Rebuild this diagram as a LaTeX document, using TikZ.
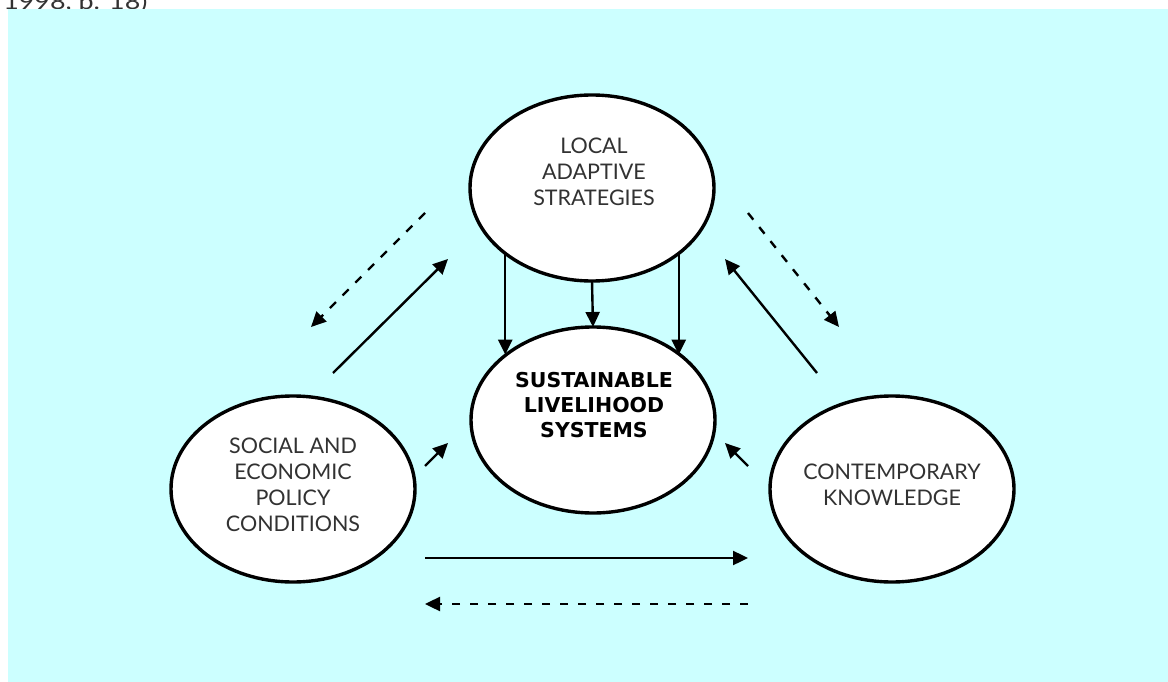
\documentclass[tikz,border=0pt]{standalone}
\usepackage{fontspec}
\setmainfont{Lato}
\newfontfamily\boldsans{DejaVu Sans}
\usetikzlibrary{shapes.geometric,arrows.meta}
\definecolor{bgcyan}{RGB}{204,255,255}
\definecolor{txtgray}{RGB}{50,50,50}
\tikzset{
  ell/.style={ellipse,draw=black,fill=white,line width=3.4pt,inner sep=0pt,outer sep=0pt,
              minimum width=244pt,minimum height=186pt},
  lbl/.style={align=center,text=txtgray,inner sep=0pt,font=\fontsize{21.5}{26}\selectfont},
  boldlbl/.style={align=center,text=black,inner sep=0pt,font=\boldsans\bfseries\fontsize{20.5}{25}\selectfont},
  arr/.style={line width=2.4pt,-{Triangle[length=15pt,width=14pt]}},
  darr/.style={arr,dash pattern=on 8.5pt off 9.5pt}
}
\begin{document}
\begin{tikzpicture}[x=1pt,y=-1pt]
\useasboundingbox (0,0) rectangle (1168,682);
% cut-off caption at the very top
\node[lbl,anchor=base west,xscale=1.25] (cap) at (3,10) {1998, p. 18)};
\fill[bgcyan] (8,9) rectangle (1168,682);

% ellipses
\node[ell] (top) at (592,188) {};
\node[ell] (center) at (593,420) {};
\node[ell] (left) at (293,489) {};
\node[ell] (right) at (892,489) {};

% texts
\node[lbl] (toptext) at (594,172) {LOCAL\\ADAPTIVE\\STRATEGIES};
\node[boldlbl] (centertext) at (594,405) {SUSTAINABLE\\LIVELIHOOD\\SYSTEMS};
\node[lbl] (lefttext) at (293,485) {SOCIAL AND\\ECONOMIC\\POLICY\\CONDITIONS};
\node[lbl] (righttext) at (892,485) {CONTEMPORARY\\KNOWLEDGE};

% vertical arrows
\draw[arr] (top.217.2) -- (top.217.2 |- center.143);
\draw[arr] (top.south) -- (center.north);
\draw[arr] (top.-37.2) -- (top.-37.2 |- center.37);

% free arrow end points
\coordinate (dl1) at (425,213); \coordinate (dl2) at (311,327);
\coordinate (sl1) at (333,373); \coordinate (sl2) at (448,259);
\coordinate (ml1) at (425,466); \coordinate (ml2) at (448,443);
\coordinate (dr1) at (748,213); \coordinate (dr2) at (839,327);
\coordinate (sr1) at (817,373); \coordinate (sr2) at (725,259);
\coordinate (mr1) at (748,466); \coordinate (mr2) at (725,443);
\coordinate (b1) at (425,558); \coordinate (b2) at (748,558);
\coordinate (c1) at (748,604); \coordinate (c2) at (425,604);

\draw[darr] (dl1) -- (dl2);
\draw[arr] (sl1) -- (sl2);
\draw[arr] (ml1) -- (ml2);
\draw[darr] (dr1) -- (dr2);
\draw[arr] (sr1) -- (sr2);
\draw[arr] (mr1) -- (mr2);
\draw[arr] (b1) -- (b2);
\draw[darr] (c1) -- (c2);
\end{tikzpicture}
\end{document}
